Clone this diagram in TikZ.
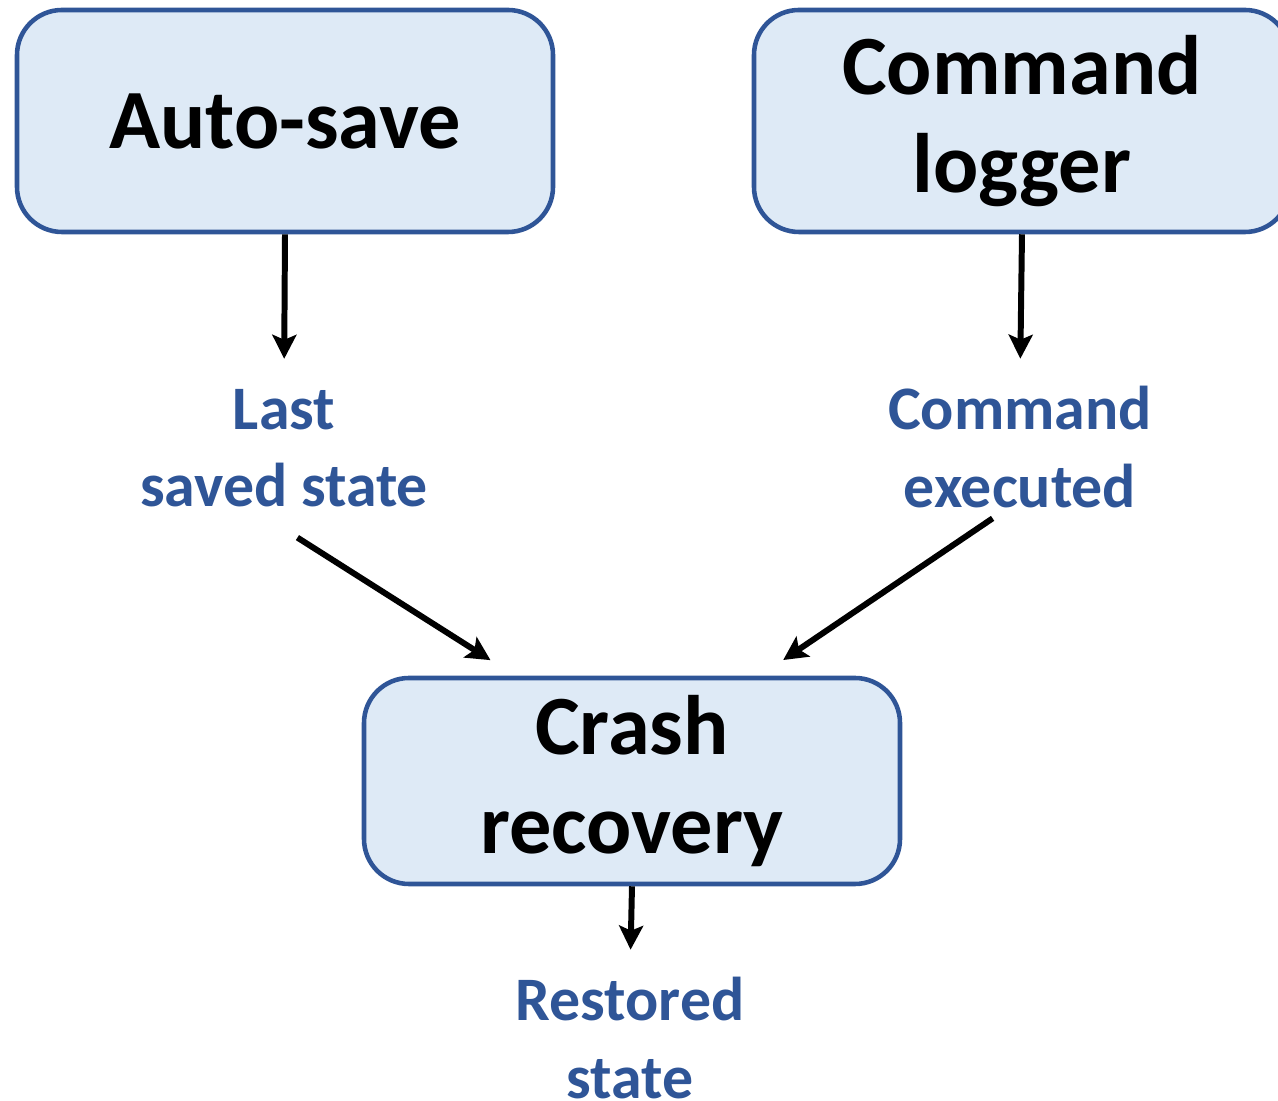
\documentclass[tikz,border=0pt]{standalone}
\usepackage{fontspec}
\setmainfont{Carlito}
\usetikzlibrary{arrows.meta}
\definecolor{boxfill}{HTML}{DEEAF6}
\definecolor{boxline}{HTML}{2F5597}

\begin{document}
\begin{tikzpicture}[>={Stealth[length=0.24cm, width=0.24cm, inset=0.05cm]},
        module/.style={draw=boxline, line width=1.3pt, fill=boxfill, rounded corners=0.45cm,
            minimum width=5.36cm, align=center, font=\bfseries\fontsize{24}{28}\selectfont},
        signal/.style={text=boxline, inner sep=0pt, align=center,
            font=\bfseries\fontsize{17.6}{22}\selectfont},
        flow/.style={->, line width=1.7pt}]
        \useasboundingbox (0,0) rectangle (12.78,-11.01);

        % Modules
        \node[module, minimum height=2.22cm] (autosave) at (2.85,-1.21) {Auto-save};
        \node[module, minimum height=2.22cm] (logger) at (10.22,-1.21) {Command\\logger};
        \node[module, minimum height=2.06cm] (crash) at (6.32,-7.81) {Crash\\recovery};

        % What they hand on
        \node[signal] (saved) at (2.84,-4.485) {Last\\saved state};
        \node[signal] (executed) at (10.20,-4.47) {Command\\executed};
        \node[signal] (restored) at (6.30,-10.38) {Restored\\state};

        % Flow
        \draw[flow, shorten >=0.3cm] (autosave.south) -- (saved.north);
        \draw[flow, shorten >=0.27cm] (logger.south) -- (executed.north);
        \draw[flow, shorten <=0.55cm, shorten >=0.29cm] ([xshift=-0.33cm]saved.south) -- ([xshift=-1.17cm]crash.north);
        \draw[flow, shorten <=0.18cm, shorten >=0.28cm] ([xshift=-0.125cm]executed.south) -- ([xshift=1.28cm]crash.north);
        \draw[flow, shorten >=0.27cm] (crash.south) -- (restored.north);
    \end{tikzpicture}
\end{document}
